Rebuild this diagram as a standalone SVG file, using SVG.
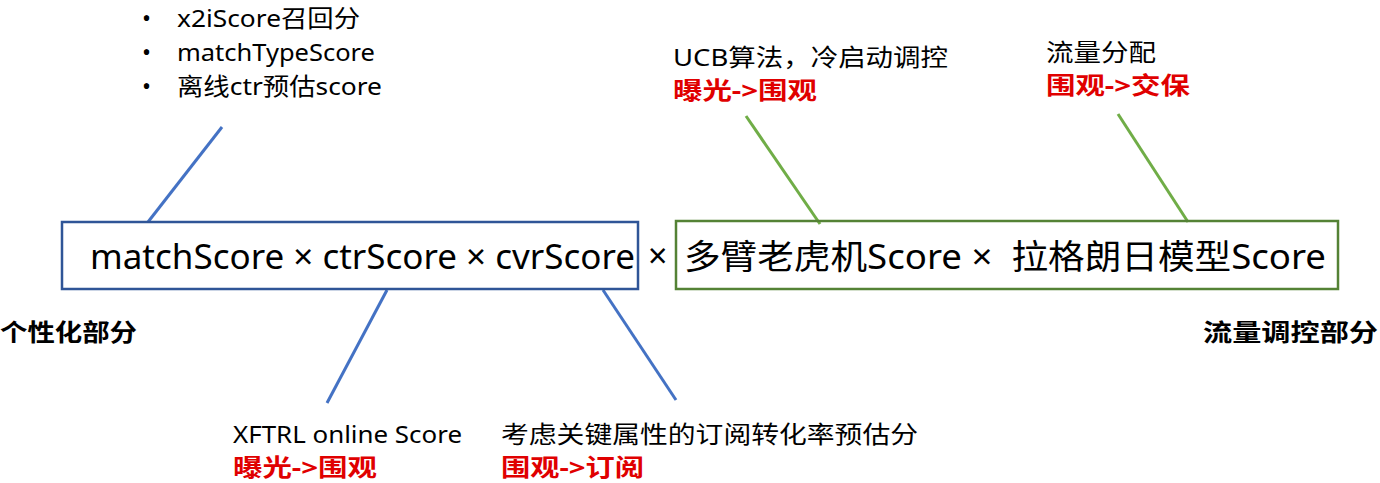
<svg xmlns="http://www.w3.org/2000/svg" width="1380" height="483" viewBox="0 0 1380 483">
<style>
text{font-family:"Noto Sans","Noto Sans CJK SC",sans-serif;fill:#000}
.t{font-size:24px}
.r{font-size:24px;font-weight:bold;fill:#e00000}
.b{font-size:24px;font-weight:bold}
.big{font-size:34px}
.bl{stroke:#4472c4;stroke-width:3;fill:none}
.gr{stroke:#70ad47;stroke-width:3;fill:none}
</style>
<rect width="1380" height="483" fill="#fff"/>
<g id="connectors">
<line class="bl" x1="222" y1="127" x2="148" y2="222"/>
<line class="bl" x1="387" y1="290" x2="327" y2="403"/>
<line class="bl" x1="603" y1="290" x2="676" y2="400"/>
<line class="gr" x1="746" y1="116" x2="820" y2="224"/>
<line class="gr" x1="1118" y1="114" x2="1188" y2="222"/>
</g>
<g id="personal">
<rect x="62" y="222" width="576" height="67" fill="none" stroke="#2f5597" stroke-width="2.5"/>
<text class="big" x="90" y="269" textLength="545" lengthAdjust="spacingAndGlyphs">matchScore × ctrScore × cvrScore</text>
</g>
<text class="big" x="648" y="268">×</text>
<g id="traffic">
<rect x="676" y="221" width="662" height="68" fill="none" stroke="#548235" stroke-width="2.5"/>
<text class="big" x="684" y="269" textLength="642" lengthAdjust="spacingAndGlyphs">多臂老虎机Score ×&#160;&#160;拉格朗日模型Score</text>
</g>
<g id="bullets">
<text class="t" x="142" y="27">•</text><text class="t" x="177" y="27" textLength="183" lengthAdjust="spacingAndGlyphs">x2iScore召回分</text>
<text class="t" x="142" y="61">•</text><text class="t" x="177" y="61" textLength="198" lengthAdjust="spacingAndGlyphs">matchTypeScore</text>
<text class="t" x="142" y="95">•</text><text class="t" x="177" y="95" textLength="205" lengthAdjust="spacingAndGlyphs">离线ctr预估score</text>
</g>
<g id="ucb">
<text class="t" x="673" y="66" textLength="275" lengthAdjust="spacingAndGlyphs">UCB算法，冷启动调控</text>
<text class="r" x="673" y="99" textLength="144" lengthAdjust="spacingAndGlyphs">曝光-&gt;围观</text>
</g>
<g id="alloc">
<text class="t" x="1046" y="61" textLength="110" lengthAdjust="spacingAndGlyphs">流量分配</text>
<text class="r" x="1046" y="94" textLength="144" lengthAdjust="spacingAndGlyphs">围观-&gt;交保</text>
</g>
<g id="xftrl">
<text class="t" x="233" y="443" textLength="229" lengthAdjust="spacingAndGlyphs">XFTRL online Score</text>
<text class="r" x="233" y="476" textLength="144" lengthAdjust="spacingAndGlyphs">曝光-&gt;围观</text>
</g>
<g id="cvr">
<text class="t" x="501" y="443" textLength="417" lengthAdjust="spacingAndGlyphs">考虑关键属性的订阅转化率预估分</text>
<text class="r" x="501" y="476" textLength="143" lengthAdjust="spacingAndGlyphs">围观-&gt;订阅</text>
</g>
<text class="b" x="0" y="341" textLength="137" lengthAdjust="spacingAndGlyphs">个性化部分</text>
<text class="b" x="1203" y="341" textLength="175" lengthAdjust="spacingAndGlyphs">流量调控部分</text>
</svg>
